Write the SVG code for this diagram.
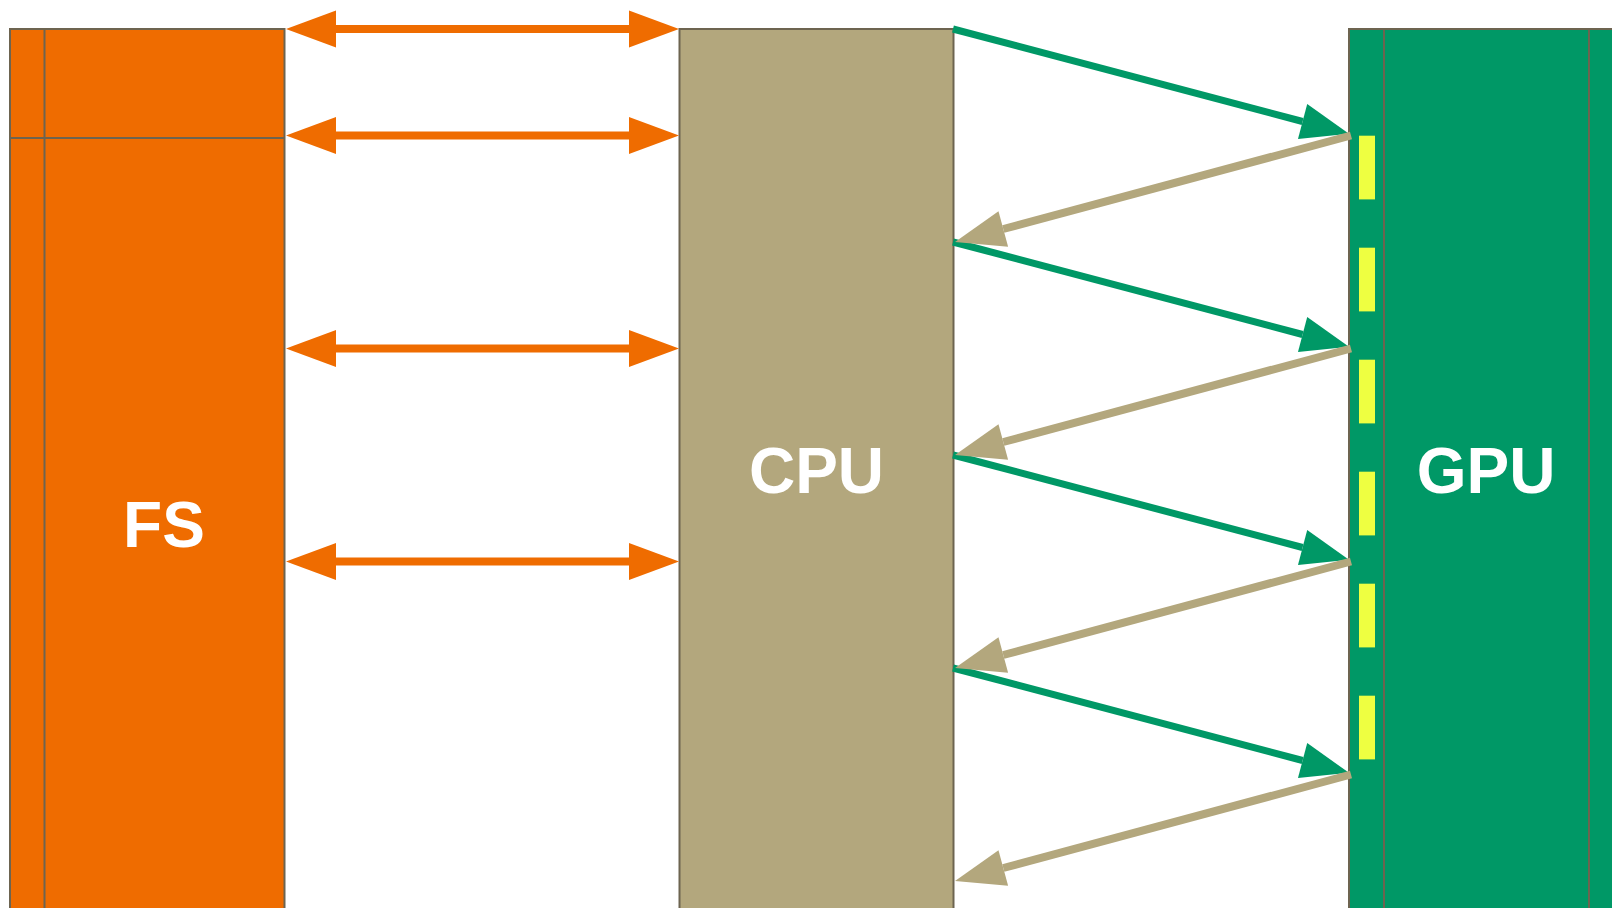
<svg xmlns="http://www.w3.org/2000/svg" width="1612" height="908" viewBox="0 0 1612 908">
<style>
.node{stroke:#6d6450;stroke-width:2}
.div{stroke:#6d6450;stroke-width:2;fill:none}
.lbl{font-family:"Liberation Sans",Arial,sans-serif;font-weight:bold;font-size:64px;fill:#ffffff;text-anchor:middle}
.fsx{stroke:#ef6c00;stroke-width:8;fill:none}
.gx{stroke:#009866;stroke-width:7;fill:none}
.tx{stroke:#b3a77d;stroke-width:8;fill:none}
</style>
<defs>
<marker id="ho" markerUnits="userSpaceOnUse" markerWidth="52" markerHeight="40" refX="0" refY="18.5" orient="auto-start-reverse" overflow="visible"><path d="M0,0 L50,18.5 L0,37 Z" fill="#ef6c00"/></marker>
<marker id="hg" markerUnits="userSpaceOnUse" markerWidth="52" markerHeight="40" refX="0" refY="18" orient="auto" overflow="visible"><path d="M0,0 L48,18 L0,36 Z" fill="#009866"/></marker>
<marker id="ht" markerUnits="userSpaceOnUse" markerWidth="52" markerHeight="40" refX="0" refY="18.5" orient="auto" overflow="visible"><path d="M0,0 L50,18.5 L0,37 Z" fill="#b3a77d"/></marker>
</defs>
<rect width="1612" height="908" fill="#ffffff"/>
<g id="FS">
<rect class="node" x="10" y="29" width="274.5" height="940" fill="#ef6c00"/>
<line class="div" x1="44.5" y1="29" x2="44.5" y2="969"/>
<line class="div" x1="10" y1="138" x2="284.5" y2="138"/>
<text class="lbl" x="164" y="547">FS</text>
</g>
<g id="CPU">
<rect class="node" x="679.5" y="29" width="274" height="940" fill="#b3a77d"/>
<text class="lbl" x="816.5" y="493">CPU</text>
</g>
<g id="GPU">
<rect class="node" x="1349" y="29" width="275" height="940" fill="#009866"/>
<line class="div" x1="1384" y1="29" x2="1384" y2="969"/>
<line class="div" x1="1589" y1="29" x2="1589" y2="969"/>
<g fill="#eeff41">
<rect x="1359" y="135.7" width="16" height="63.7"/>
<rect x="1359" y="247.7" width="16" height="63.7"/>
<rect x="1359" y="359.7" width="16" height="63.7"/>
<rect x="1359" y="471.7" width="16" height="63.7"/>
<rect x="1359" y="583.7" width="16" height="63.7"/>
<rect x="1359" y="695.7" width="16" height="63.7"/>
</g>
<text class="lbl" x="1486" y="493">GPU</text>
</g>
<g id="connectors">
<line class="fsx" x1="336" y1="29" x2="629" y2="29" marker-start="url(#ho)" marker-end="url(#ho)"/>
<line class="fsx" x1="336" y1="135.5" x2="629" y2="135.5" marker-start="url(#ho)" marker-end="url(#ho)"/>
<line class="fsx" x1="336" y1="348.5" x2="629" y2="348.5" marker-start="url(#ho)" marker-end="url(#ho)"/>
<line class="fsx" x1="336" y1="561.5" x2="629" y2="561.5" marker-start="url(#ho)" marker-end="url(#ho)"/>
<line class="gx" x1="953" y1="29" x2="1302.6" y2="121.5" marker-end="url(#hg)"/>
<line class="gx" x1="953" y1="242" x2="1302.6" y2="334.5" marker-end="url(#hg)"/>
<line class="gx" x1="953" y1="455" x2="1302.6" y2="547.5" marker-end="url(#hg)"/>
<line class="gx" x1="953" y1="668" x2="1302.6" y2="760.5" marker-end="url(#hg)"/>
<line class="tx" x1="1351" y1="135.5" x2="1003.3" y2="229" marker-end="url(#ht)"/>
<line class="tx" x1="1351" y1="348.5" x2="1003.3" y2="442" marker-end="url(#ht)"/>
<line class="tx" x1="1351" y1="561.5" x2="1003.3" y2="655" marker-end="url(#ht)"/>
<line class="tx" x1="1351" y1="774.5" x2="1003.3" y2="868" marker-end="url(#ht)"/>
</g>
</svg>
